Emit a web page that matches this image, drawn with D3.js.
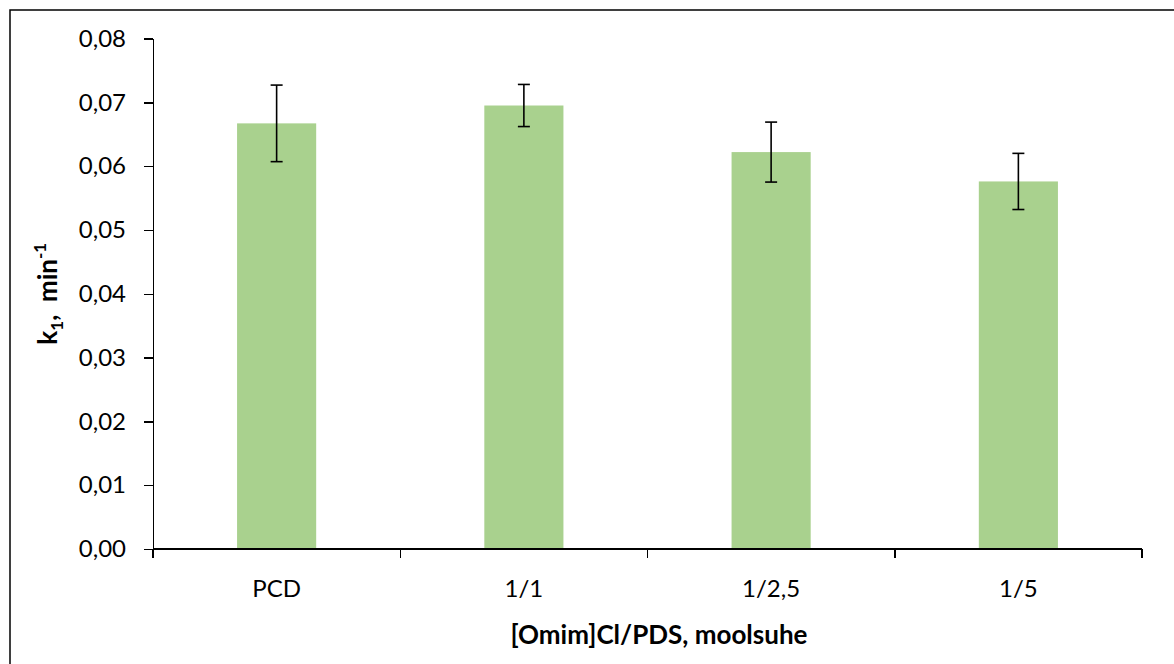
<!DOCTYPE html>
<html lang="et">
<head>
<meta charset="utf-8">
<title>k1</title>
<script src="https://cdn.jsdelivr.net/npm/d3@7"></script>
<style>
    body { margin: 0; background: #fff; }
    text { font-family: Lato, "Open Sans", sans-serif; fill: #000; }
    .axis path, .axis line { stroke: #000; stroke-width: 1.5; shape-rendering: crispEdges; }
    .axis text { font-size: 24px; }
</style>
</head>
<body>
<script>
    // andmed
    var categories = ["PCD", "1/1", "1/2,5", "1/5"];
    var values = [0.0667, 0.0695, 0.0622, 0.0576];
    var errors = [0.0060, 0.0033, 0.0047, 0.0044];
    var yTicks = [0, 0.01, 0.02, 0.03, 0.04, 0.05, 0.06, 0.07, 0.08];

    var width = 1174, height = 664;
    var margin = { left: 153, right: 32, top: 38.5, bottom: 115 };

    var svg = d3.select("body").append("svg")
        .attr("width", width)
        .attr("height", height);

    // raam
    svg.append("rect")
        .attr("x", 10).attr("y", 10)
        .attr("width", width + 20).attr("height", height + 20)
        .attr("fill", "none").attr("stroke", "#000").attr("stroke-width", 1.5);

    var x = d3.scaleBand()
        .domain(categories)
        .range([margin.left, width - margin.right])
        .paddingInner(0.68).paddingOuter(0.34);

    var y = d3.scaleLinear()
        .domain([0, 0.08])
        .range([height - margin.bottom, margin.top]);

    var fmt = function (d) { return d3.format(".2f")(d).replace(".", ","); };

    svg.append("g")
        .attr("class", "axis")
        .attr("transform", "translate(" + margin.left + ",0)")
        .call(d3.axisLeft(y).tickValues(yTicks).tickFormat(fmt).tickSize(9).tickPadding(18).tickSizeOuter(0));

    // tulbad
    svg.selectAll(".bar")
        .data(values)
        .enter().append("rect")
        .attr("class", "bar")
        .attr("x", function (d, i) { return x(categories[i]); })
        .attr("y", function (d) { return y(d); })
        .attr("width", x.bandwidth())
        .attr("height", function (d) { return y(0) - y(d); })
        .attr("fill", "#a9d18e");

    // x telg, jaotised kategooriate vahel
    var xAxis = svg.append("g")
        .attr("class", "axis")
        .attr("transform", "translate(0," + y(0) + ")");
    xAxis.append("path")
        .attr("d", "M" + margin.left + ",0H" + (width - margin.right));
    var step = x.step();
    var bounds = d3.range(categories.length + 1).map(function (i) { return margin.left + i * step; });
    xAxis.selectAll(".tk").data(bounds).enter().append("line")
        .attr("x1", function (d) { return d; }).attr("x2", function (d) { return d; })
        .attr("y1", 0).attr("y2", 9);
    xAxis.selectAll(".lb").data(categories).enter().append("text")
        .attr("x", function (d) { return x(d) + x.bandwidth() / 2; })
        .attr("y", 48)
        .attr("text-anchor", "middle")
        .text(function (d) { return d; });

    // veapiirid
    var eb = svg.selectAll(".err")
        .data(values)
        .enter().append("g")
        .attr("stroke", "#000").attr("stroke-width", 1.6);
    eb.append("line")
        .attr("x1", function (d, i) { return x(categories[i]) + x.bandwidth() / 2; })
        .attr("x2", function (d, i) { return x(categories[i]) + x.bandwidth() / 2; })
        .attr("y1", function (d, i) { return y(d + errors[i]); })
        .attr("y2", function (d, i) { return y(d - errors[i]); });
    [1, -1].forEach(function (s) {
        eb.append("line")
            .attr("x1", function (d, i) { return x(categories[i]) + x.bandwidth() / 2 - 6; })
            .attr("x2", function (d, i) { return x(categories[i]) + x.bandwidth() / 2 + 6; })
            .attr("y1", function (d, i) { return y(d + s * errors[i]); })
            .attr("y2", function (d, i) { return y(d + s * errors[i]); });
    });

    // telgede pealkirjad
    svg.append("text")
        .attr("x", 659).attr("y", 644)
        .attr("text-anchor", "middle")
        .attr("font-size", 26).attr("font-weight", "bold")
        .text("[Omim]Cl/PDS, moolsuhe");

    var yt = svg.append("text")
        .attr("transform", "translate(57," + y(0.04) + ") rotate(-90)")
        .attr("text-anchor", "middle")
        .attr("font-size", 26).attr("font-weight", "bold")
        .style("white-space", "pre");
    yt.append("tspan").text("k");
    yt.append("tspan").attr("font-size", 17).attr("dy", 6).text("1");
    yt.append("tspan").attr("dy", -6).text(",  min");
    yt.append("tspan").attr("font-size", 17).attr("dy", -11).text("-1");
</script>
</body>
</html>
